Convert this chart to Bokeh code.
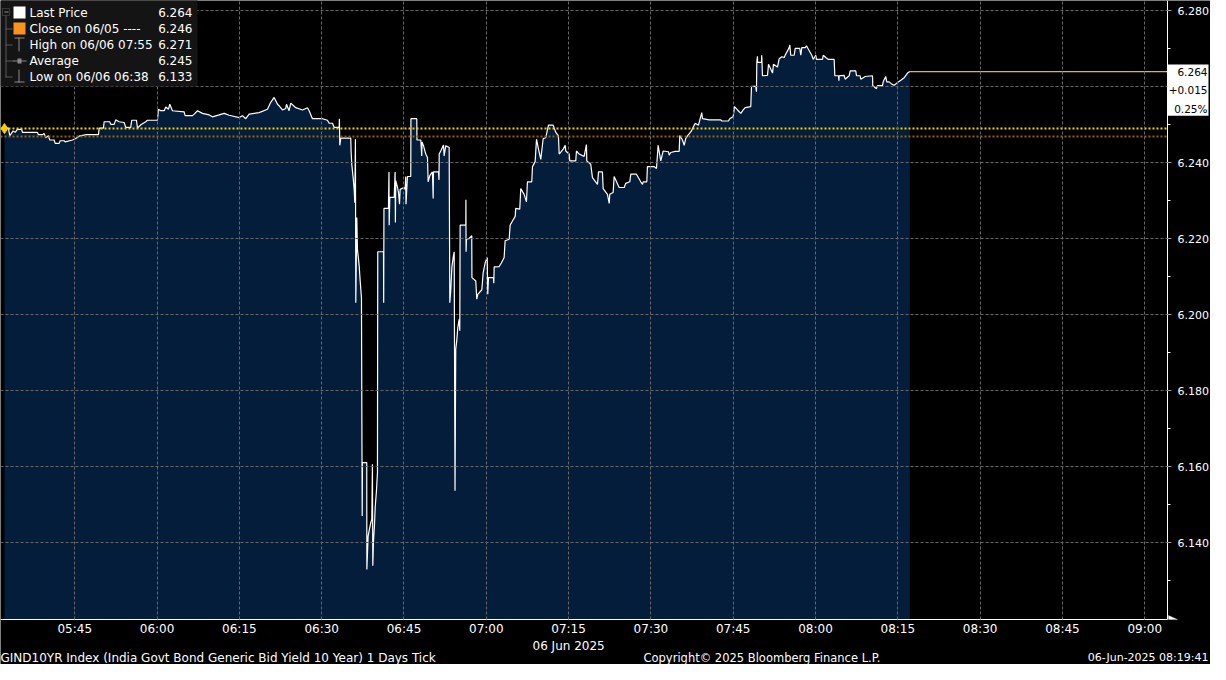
import pandas as pd
from bokeh.plotting import figure
from bokeh.models import (Range1d, FixedTicker, DatetimeTickFormatter, Label,
                          BoxAnnotation, NumeralTickFormatter, ColumnDataSource, PolyAnnotation)
from bokeh.embed import file_html
from bokeh.resources import INLINE

# ---------------- data ----------------
session_date = "2025-06-06"

tick_times = [
    "05:32:11", "05:32:55", "05:33:09", "05:33:46", "05:34:08", "05:34:33", "05:35:20", "05:35:28", "05:38:12", "05:38:23",
    "05:39:07", "05:39:25", "05:39:43", "05:40:12", "05:40:27", "05:41:15", "05:41:26", "05:42:09", "05:42:20", "05:43:04",
    "05:43:15", "05:44:35", "05:45:11", "05:45:55", "05:47:08", "05:49:19", "05:49:27", "05:50:14", "05:50:21", "05:51:23",
    "05:51:34", "05:52:11", "05:52:28", "05:53:05", "05:54:00", "05:54:18", "05:55:12", "05:55:23", "05:56:15", "05:56:26",
    "05:57:02", "05:57:56", "05:58:15", "06:00:04", "06:00:15", "06:00:40", "06:01:18", "06:01:35", "06:02:05", "06:02:19",
    "06:02:48", "06:04:56", "06:05:07", "06:06:27", "06:06:46", "06:07:22", "06:08:16", "06:09:30", "06:10:06", "06:11:19",
    "06:12:14", "06:13:08", "06:14:58", "06:15:34", "06:16:10", "06:16:47", "06:18:36", "06:20:07", "06:20:43", "06:21:20",
    "06:21:57", "06:22:22", "06:22:51", "06:23:27", "06:23:35", "06:24:04", "06:24:22", "06:25:17", "06:26:30", "06:27:25",
    "06:27:43", "06:28:19", "06:30:09", "06:31:03", "06:31:22", "06:31:58", "06:32:17", "06:33:11", "06:33:14", "06:33:18",
    "06:33:29", "06:35:18", "06:35:22", "06:35:29", "06:35:44", "06:35:55", "06:36:02", "06:36:09", "06:36:13", "06:36:24",
    "06:36:31", "06:36:50", "06:37:01", "06:37:15", "06:37:23", "06:37:26", "06:38:13", "06:38:14", "06:38:28", "06:38:39",
    "06:38:57", "06:39:08", "06:39:15", "06:39:19", "06:39:26", "06:39:37", "06:39:45", "06:39:59", "06:40:10", "06:40:13",
    "06:41:16", "06:41:18", "06:41:21", "06:42:10", "06:42:16", "06:42:18", "06:42:25", "06:43:13", "06:43:23", "06:43:26",
    "06:43:30", "06:43:49", "06:44:00", "06:44:11", "06:44:18", "06:45:02", "06:45:13", "06:45:19", "06:45:22", "06:45:38",
    "06:46:14", "06:46:16", "06:47:20", "06:47:22", "06:48:04", "06:48:14", "06:48:17", "06:48:33", "06:48:58", "06:49:17",
    "06:49:24", "06:49:42", "06:50:11", "06:50:19", "06:50:22", "06:51:17", "06:51:23", "06:51:25", "06:51:42", "06:52:12",
    "06:52:19", "06:52:37", "06:53:14", "06:53:21", "06:53:32", "06:53:43", "06:53:58", "06:54:09", "06:54:18", "06:54:26",
    "06:54:37", "06:54:48", "06:55:03", "06:55:10", "06:55:14", "06:56:16", "06:56:17", "06:56:19", "06:56:23", "06:56:53",
    "06:57:21", "06:57:23", "06:58:05", "06:58:16", "06:58:27", "06:59:11", "06:59:26", "06:59:48", "07:00:10", "07:00:16",
    "07:00:24", "07:01:18", "07:01:22", "07:01:26", "07:02:21", "07:02:46", "07:03:15", "07:03:26", "07:04:10", "07:04:21",
    "07:04:46", "07:05:16", "07:05:22", "07:06:06", "07:06:17", "07:06:54", "07:07:19", "07:07:30", "07:08:17", "07:08:25",
    "07:08:54", "07:09:09", "07:09:31", "07:09:56", "07:10:22", "07:10:50", "07:11:20", "07:12:11", "07:12:40", "07:13:09",
    "07:13:17", "07:14:01", "07:14:23", "07:14:29", "07:15:06", "07:15:13", "07:16:18", "07:16:26", "07:16:56", "07:17:50",
    "07:18:15", "07:18:19", "07:19:02", "07:19:21", "07:20:16", "07:20:27", "07:21:10", "07:21:18", "07:22:05", "07:22:24",
    "07:22:30", "07:23:07", "07:23:18", "07:24:13", "07:25:08", "07:25:25", "07:26:09", "07:26:20", "07:27:22", "07:28:09",
    "07:28:28", "07:28:35", "07:29:15", "07:29:22", "07:30:36", "07:31:01", "07:31:19", "07:31:48", "07:32:14", "07:33:12",
    "07:33:20", "07:33:37", "07:34:25", "07:35:09", "07:35:16", "07:35:45", "07:36:04", "07:36:21", "07:36:40", "07:37:24",
    "07:37:35", "07:38:04", "07:38:40", "07:39:16", "07:39:24", "07:40:37", "07:42:44", "07:42:55", "07:44:08", "07:44:22",
    "07:45:00", "07:45:14", "07:45:47", "07:46:23", "07:46:49", "07:47:11", "07:48:12", "07:48:20", "07:49:07", "07:49:14",
    "07:49:18", "07:49:25", "07:49:27", "07:50:09", "07:50:12", "07:50:20", "07:51:15", "07:51:26", "07:51:51", "07:52:10",
    "07:52:20", "07:53:04", "07:53:23", "07:53:51", "07:54:17", "07:54:28", "07:55:12", "07:55:19", "07:55:29", "07:56:07",
    "07:56:18", "07:57:08", "07:57:19", "07:57:30", "07:58:07", "07:58:21", "07:58:51", "07:59:19", "07:59:35", "08:00:03",
    "08:00:10", "08:01:16", "08:01:24", "08:01:52", "08:02:22", "08:03:24", "08:03:31", "08:04:11", "08:04:16", "08:04:19",
    "08:05:13", "08:05:24", "08:06:08", "08:06:19", "08:07:20", "08:07:28", "08:08:08", "08:08:15", "08:09:03", "08:10:23",
    "08:10:26", "08:11:06", "08:11:17", "08:12:12", "08:12:20", "08:12:48", "08:12:59", "08:13:25", "08:13:54", "08:14:20",
    "08:14:56", "08:15:33", "08:16:10", "08:16:46", "08:17:11",
]

tick_values = [
    6.2491, 6.2491, 6.2471, 6.2484, 6.2480, 6.2488, 6.2488, 6.2480, 6.2480, 6.2474,
    6.2474, 6.2477, 6.2466, 6.2471, 6.2460, 6.2460, 6.2451, 6.2451, 6.2458, 6.2458,
    6.2455, 6.2460, 6.2464, 6.2471, 6.2474, 6.2474, 6.2491, 6.2491, 6.2508, 6.2508,
    6.2501, 6.2501, 6.2513, 6.2508, 6.2506, 6.2493, 6.2493, 6.2512, 6.2512, 6.2491,
    6.2500, 6.2508, 6.2512, 6.2512, 6.2541, 6.2537, 6.2537, 6.2547, 6.2541, 6.2554,
    6.2537, 6.2534, 6.2524, 6.2524, 6.2528, 6.2537, 6.2530, 6.2526, 6.2521, 6.2526,
    6.2530, 6.2525, 6.2519, 6.2524, 6.2516, 6.2528, 6.2532, 6.2541, 6.2559, 6.2572,
    6.2554, 6.2548, 6.2539, 6.2543, 6.2554, 6.2537, 6.2557, 6.2545, 6.2539, 6.2545,
    6.2537, 6.2516, 6.2516, 6.2512, 6.2504, 6.2504, 6.2493, 6.2493, 6.2516, 6.2446,
    6.2465, 6.2465, 6.2429, 6.2396, 6.2361, 6.2330, 6.2295, 6.2462, 6.2032, 6.2256,
    6.2173, 6.2129, 6.2089, 6.2045, 6.1471, 6.1611, 6.1611, 6.1330, 6.1418, 6.1432,
    6.1453, 6.1462, 6.1607, 6.1340, 6.1401, 6.1445, 6.1493, 6.1537, 6.1585, 6.2166,
    6.2166, 6.2032, 6.2280, 6.2280, 6.2376, 6.2236, 6.2309, 6.2309, 6.2376, 6.2243,
    6.2353, 6.2335, 6.2322, 6.2291, 6.2330, 6.2335, 6.2330, 6.2364, 6.2291, 6.2364,
    6.2364, 6.2516, 6.2516, 6.2460, 6.2460, 6.2418, 6.2455, 6.2445, 6.2423, 6.2414,
    6.2350, 6.2366, 6.2376, 6.2306, 6.2376, 6.2376, 6.2355, 6.2423, 6.2431, 6.2447,
    6.2418, 6.2445, 6.2440, 6.2032, 6.2067, 6.2124, 6.2151, 6.2166, 6.1537, 6.1909,
    6.1932, 6.1966, 6.1988, 6.1958, 6.2236, 6.2236, 6.2303, 6.2166, 6.2199, 6.2201,
    6.2208, 6.2098, 6.2089, 6.2041, 6.2054, 6.2066, 6.2111, 6.2137, 6.2151, 6.2054,
    6.2098, 6.2098, 6.2083, 6.2126, 6.2127, 6.2137, 6.2151, 6.2195, 6.2199, 6.2236,
    6.2247, 6.2259, 6.2280, 6.2278, 6.2332, 6.2317, 6.2297, 6.2350, 6.2350, 6.2390,
    6.2403, 6.2462, 6.2436, 6.2409, 6.2464, 6.2466, 6.2499, 6.2499, 6.2480, 6.2471,
    6.2423, 6.2436, 6.2446, 6.2431, 6.2423, 6.2405, 6.2405, 6.2431, 6.2423, 6.2417,
    6.2448, 6.2405, 6.2396, 6.2361, 6.2343, 6.2376, 6.2376, 6.2332, 6.2317, 6.2293,
    6.2317, 6.2322, 6.2364, 6.2335, 6.2335, 6.2346, 6.2350, 6.2370, 6.2370, 6.2350,
    6.2343, 6.2350, 6.2350, 6.2390, 6.2390, 6.2385, 6.2446, 6.2405, 6.2431, 6.2429,
    6.2420, 6.2427, 6.2430, 6.2430, 6.2472, 6.2460, 6.2446, 6.2464, 6.2471, 6.2484,
    6.2490, 6.2504, 6.2499, 6.2532, 6.2516, 6.2513, 6.2513, 6.2510, 6.2510, 6.2516,
    6.2522, 6.2548, 6.2539, 6.2530, 6.2539, 6.2545, 6.2548, 6.2601, 6.2601, 6.2587,
    6.2664, 6.2680, 6.2664, 6.2664, 6.2683, 6.2629, 6.2630, 6.2659, 6.2646, 6.2636,
    6.2659, 6.2652, 6.2674, 6.2679, 6.2677, 6.2683, 6.2703, 6.2710, 6.2683, 6.2683,
    6.2701, 6.2701, 6.2683, 6.2703, 6.2703, 6.2708, 6.2695, 6.2683, 6.2672, 6.2683,
    6.2672, 6.2672, 6.2683, 6.2677, 6.2672, 6.2672, 6.2629, 6.2629, 6.2616, 6.2629,
    6.2630, 6.2620, 6.2629, 6.2642, 6.2642, 6.2629, 6.2629, 6.2620, 6.2627, 6.2629,
    6.2603, 6.2595, 6.2603, 6.2603, 6.2613, 6.2627, 6.2613, 6.2613, 6.2607, 6.2604,
    6.2611, 6.2617, 6.2624, 6.2636, 6.2640,
]

x_tick_labels = ["05:45", "06:00", "06:15", "06:30", "06:45", "07:00", "07:15",
                 "07:30", "07:45", "08:00", "08:15", "08:30", "08:45", "09:00"]
y_ticks = [6.14, 6.16, 6.18, 6.20, 6.22, 6.24, 6.26, 6.28]
y_minor_ticks = [6.13, 6.15, 6.17, 6.19, 6.21, 6.23, 6.25, 6.27]
date_tick = "07:15"

last_price = 6.264
net_change = 0.015
pct_change = 0.25
ref_close_level = 6.249      # yellow dotted level
prev_close_level = 6.2469    # darker orange dotted level

legend_labels = ["Last Price", "Close on 06/05 ----", "High on 06/06 07:55", "Average", "Low on 06/06 06:38"]
legend_values = [6.264, 6.246, 6.271, 6.245, 6.133]

footer_left = "GIND10YR Index (India Govt Bond Generic Bid Yield 10 Year) 1 Days  Tick"
footer_mid = "Copyright\u00a9 2025 Bloomberg Finance L.P."
footer_right = "06-Jun-2025 08:19:41"
date_text = "06 Jun 2025"

# ---------------- view / layout ----------------
view_start, view_end, axis_time = "05:31:28", "09:11:59", "09:04:08"
view_top, view_bottom, axis_level = 6.2827, 6.1080, 6.1198

EPOCH = pd.Timestamp("1970-01-01")


def to_ms(hms):
    return (pd.Timestamp(f"{session_date} {hms}") - EPOCH) / pd.Timedelta(milliseconds=1)


FONT = "DejaVu Sans"
FILL = "#031d3b"
GRID = "#686868"
W, H = 1210, 664
FH = H

t_ms = [to_ms(s) for s in tick_times]
src = ColumnDataSource(dict(t=t_ms, v=tick_values))
x_axis_ms = to_ms(axis_time)

p = figure(width=W, height=H, x_axis_type="datetime", y_axis_location="right",
           x_range=Range1d(to_ms(view_start), to_ms(view_end)),
           y_range=Range1d(view_bottom, view_top),
           output_backend="svg", toolbar_location=None,
           background_fill_color="black", border_fill_color="black",
           min_border=0)
p.outline_line_color = None

# ---- axes (drawn inside the frame at fixed locations) ----
x_ticker = FixedTicker(ticks=[to_ms(s) for s in x_tick_labels])
xa = p.xaxis[0]
xa.fixed_location = axis_level
xa.bounds = (to_ms(view_start), x_axis_ms)
xa.ticker = x_ticker
xa.formatter = DatetimeTickFormatter(minutes="%H:%M", hourmin="%H:%M", hours="%H:%M")
xa.axis_line_color = "white"
xa.major_tick_out = 0
xa.major_tick_in = 0
xa.minor_tick_out = 0
xa.minor_tick_in = 0
xa.major_label_standoff = 2
xa.major_label_text_color = "white"
xa.major_label_text_font = FONT
xa.major_label_text_font_size = "12px"

label_ticks = [v for v in y_ticks if abs(v - last_price) > 0.008]
ya = p.yaxis[0]
ya.fixed_location = x_axis_ms
ya.bounds = (axis_level, view_top)
ya.ticker = FixedTicker(ticks=label_ticks, minor_ticks=y_minor_ticks)
ya.formatter = NumeralTickFormatter(format="0.000")
ya.axis_line_color = "white"
ya.major_tick_out = 4
ya.major_tick_in = 0
ya.major_tick_line_color = "#9a9a9a"
ya.minor_tick_out = 3
ya.minor_tick_in = 0
ya.minor_tick_line_color = "white"
ya.major_label_standoff = 6
ya.major_label_text_color = "white"
ya.major_label_text_font = FONT
ya.major_label_text_font_size = "11px"

# ---- grid ----
p.xgrid.ticker = x_ticker
p.xgrid.cross_bounds = (axis_level, view_top)
p.ygrid.ticker = FixedTicker(ticks=y_ticks)
p.ygrid.cross_bounds = (to_ms(view_start), x_axis_ms)
for g in (p.xgrid, p.ygrid):
    g.grid_line_color = GRID
    g.grid_line_dash = "3 2"
    g.grid_line_width = 1
    g.level = "guide"

# ---- series ----
p.varea(x="t", y1=axis_level, y2="v", source=src, fill_color=FILL, fill_alpha=1.0)
p.line(x="t", y="v", source=src, line_color="white", line_width=1.2)
p.line(x=[t_ms[-1], x_axis_ms], y=[last_price, last_price], line_color="#f2b705", line_width=1.2)
p.line(x=[to_ms(view_start), x_axis_ms], y=[prev_close_level, prev_close_level],
       line_color="#9b6200", line_width=2, line_dash="2 2")
p.line(x=[to_ms(view_start), x_axis_ms], y=[ref_close_level, ref_close_level],
       line_color="#f5d000", line_width=2, line_dash="2 2")
p.scatter(x=[t_ms[0]], y=[ref_close_level], marker="diamond", size=10,
          fill_color="#f5d000", line_color="#f5d000")


# ---- annotation helpers (px, origin top-left of figure) ----
def sy(top_px):
    return FH - top_px


def rect(l, t, r, b, color, fill=True):
    kw = dict(left=l, right=r, top=sy(t), bottom=sy(b),
              left_units="screen", right_units="screen", top_units="screen", bottom_units="screen",
              line_color=color if not fill else None, line_width=1,
              fill_color=color if fill else None, fill_alpha=1.0 if fill else 0.0)
    p.add_layout(BoxAnnotation(**kw))


# ---- legend ----
rect(0, -4, 197, 86, "#141414")
ICON = "#8a8a8a"
rect(2, 8, 9, 15, ICON, fill=False)
rect(4, 11, 8, 12, ICON)
rect(5, 15, 6, 77, "#5a5a5a")
rows = [12, 28, 44, 60, 76]
for ry in rows[1:]:
    rect(5, ry, 12, ry + 1, "#5a5a5a")
rect(13, 6, 25, 18, "white")
rect(13, 22, 25, 34, "#f7941d")
rect(14, 37, 24, 38, ICON)
rect(18, 37, 19, 51, ICON)
rect(12, 60, 26, 61, ICON)
rect(17, 58, 21, 63, ICON)
rect(18, 69, 19, 82, ICON)
rect(14, 81, 24, 82, ICON)

for ry, lab, val in zip(rows, legend_labels, legend_values):
    p.add_layout(Label(x=29, y=sy(ry), x_units="screen", y_units="screen", text=lab,
                       text_baseline="middle", text_color="white", text_font=FONT,
                       text_font_size="12px"))
    p.add_layout(Label(x=192, y=sy(ry), x_units="screen", y_units="screen", text=f"{val:.3f}",
                       text_baseline="middle", text_align="right", text_color="white",
                       text_font=FONT, text_font_size="12px"))

# ---- last price box on the right axis ----
box_text = f"{last_price:.3f}\n{net_change:+.3f}\n{pct_change:.2f}%"
p.add_layout(Label(x=W - 2, y=sy(64), x_units="screen", y_units="screen", text=box_text,
                   text_align="right", text_baseline="top", text_color="black",
                   text_font=FONT, text_font_size="10.5px", text_line_height=1.55,
                   background_fill_color="white", background_fill_alpha=1.0, padding=1))
p.add_layout(PolyAnnotation(xs=[1166, 1171, 1171], ys=[sy(71), sy(65), sy(77)],
                            xs_units="screen", ys_units="screen",
                            fill_color="white", fill_alpha=1.0, line_color="white"))
# arrow at the end of the time axis
p.add_layout(PolyAnnotation(xs=[1168, 1177, 1168], ys=[sy(615), sy(619), sy(619)],
                            xs_units="screen", ys_units="screen",
                            fill_color="white", fill_alpha=1.0, line_color="white"))

# ---- date and footer ----
p.add_layout(Label(x=to_ms(date_tick), y=sy(645), x_units="data", y_units="screen", text=date_text,
                   text_align="center", text_baseline="middle", text_color="white",
                   text_font=FONT, text_font_size="12px"))
p.add_layout(Label(x=0, y=sy(657), x_units="screen", y_units="screen", text=footer_left,
                   text_baseline="middle", text_color="white", text_font=FONT, text_font_size="12px"))
p.add_layout(Label(x=643, y=sy(657), x_units="screen", y_units="screen", text=footer_mid,
                   text_baseline="middle", text_color="white", text_font=FONT, text_font_size="11.5px"))
p.add_layout(Label(x=W - 2, y=sy(657), x_units="screen", y_units="screen", text=footer_right,
                   text_align="right", text_baseline="middle", text_color="white",
                   text_font=FONT, text_font_size="11px"))

open("out.html", "w").write(file_html(p, INLINE))
